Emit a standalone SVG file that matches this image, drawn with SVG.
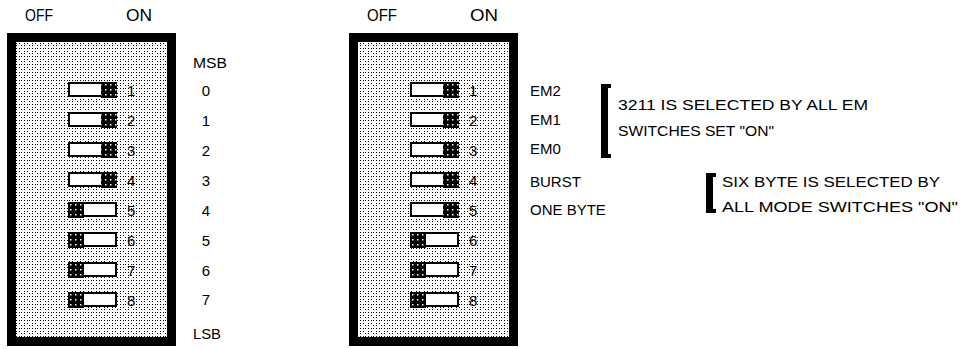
<svg xmlns="http://www.w3.org/2000/svg" width="962" height="349" viewBox="0 0 962 349">
<defs>
<pattern id="dots" x="0" y="0" width="8" height="8" patternUnits="userSpaceOnUse">
<rect width="8" height="8" fill="#fff"/>
<rect x="0" y="0" width="1" height="1" fill="#000"/>
<rect x="3" y="0" width="1" height="1" fill="#000"/>
<rect x="5" y="0" width="1" height="1" fill="#000"/>
<rect x="0" y="3" width="1" height="1" fill="#000"/>
<rect x="0" y="5" width="1" height="1" fill="#000"/>
<rect x="3" y="3" width="1" height="1" fill="#000"/>
<rect x="5" y="5" width="1" height="1" fill="#000"/>
</pattern>
<pattern id="knobdots" x="0" y="0" width="5" height="5" patternUnits="userSpaceOnUse">
<rect width="5" height="5" fill="#000"/>
<rect x="2" y="2" width="1.5" height="1.5" fill="#fff"/>
</pattern>
<g id="swOn">
<rect x="1" y="1" width="33" height="13" fill="#fff" stroke="#000" stroke-width="2"/>
<rect x="33" y="0" width="16" height="16" fill="url(#knobdots)"/>
</g>
<g id="swOff">
<rect x="15" y="1" width="33" height="13" fill="#fff" stroke="#000" stroke-width="2"/>
<rect x="0" y="0" width="16" height="16" fill="url(#knobdots)"/>
</g>
</defs>
<style>
text{font-family:"Liberation Sans","DejaVu Sans",sans-serif;fill:#000}
.hd{font-size:16px}
.lb{font-size:15px}
.dg{font-size:15px}
.nt{font-size:14px}
.box{fill:url(#dots);stroke:#000;stroke-width:9}
</style>

<g id="left-panel">
<text class="hd" x="25" y="21" textLength="28" lengthAdjust="spacingAndGlyphs">OFF</text>
<text class="hd" x="126" y="21" textLength="26" lengthAdjust="spacingAndGlyphs">ON</text>
<rect class="box" x="11.5" y="37.5" width="160" height="304"/>
<use href="#swOn" x="68" y="82"/>
<use href="#swOn" x="68" y="112"/>
<use href="#swOn" x="68" y="142"/>
<use href="#swOn" x="68" y="172"/>
<use href="#swOff" x="68" y="202"/>
<use href="#swOff" x="68" y="232"/>
<use href="#swOff" x="68" y="262"/>
<use href="#swOff" x="68" y="292"/>
<text class="dg" x="127" y="96">1</text>
<text class="dg" x="127" y="126">2</text>
<text class="dg" x="127" y="156">3</text>
<text class="dg" x="127" y="186">4</text>
<text class="dg" x="127" y="216">5</text>
<text class="dg" x="127" y="246">6</text>
<text class="dg" x="127" y="276">7</text>
<text class="dg" x="127" y="306">8</text>
<text class="lb" x="193" y="68" textLength="34" lengthAdjust="spacingAndGlyphs">MSB</text>
<text class="lb" x="206" y="96" text-anchor="middle">0</text>
<text class="lb" x="206" y="126" text-anchor="middle">1</text>
<text class="lb" x="206" y="156" text-anchor="middle">2</text>
<text class="lb" x="206" y="186" text-anchor="middle">3</text>
<text class="lb" x="206" y="216" text-anchor="middle">4</text>
<text class="lb" x="206" y="246" text-anchor="middle">5</text>
<text class="lb" x="206" y="276" text-anchor="middle">6</text>
<text class="lb" x="206" y="305" text-anchor="middle">7</text>
<text class="lb" x="193" y="339" textLength="28" lengthAdjust="spacingAndGlyphs">LSB</text>
</g>

<g id="right-panel">
<text class="hd" x="367" y="21" textLength="30" lengthAdjust="spacingAndGlyphs">OFF</text>
<text class="hd" x="470" y="21" textLength="28" lengthAdjust="spacingAndGlyphs">ON</text>
<rect class="box" x="353.5" y="37.5" width="160" height="304"/>
<use href="#swOn" x="410" y="82"/>
<use href="#swOn" x="410" y="112"/>
<use href="#swOn" x="410" y="142"/>
<use href="#swOn" x="410" y="172"/>
<use href="#swOn" x="410" y="202"/>
<use href="#swOff" x="410" y="232"/>
<use href="#swOff" x="410" y="262"/>
<use href="#swOff" x="410" y="292"/>
<text class="dg" x="469" y="96">1</text>
<text class="dg" x="469" y="126">2</text>
<text class="dg" x="469" y="156">3</text>
<text class="dg" x="469" y="186">4</text>
<text class="dg" x="469" y="216">5</text>
<text class="dg" x="469" y="246">6</text>
<text class="dg" x="469" y="276">7</text>
<text class="dg" x="469" y="306">8</text>
<text class="lb" x="530" y="96">EM2</text>
<text class="lb" x="530" y="125">EM1</text>
<text class="lb" x="530" y="154">EM0</text>
<text class="lb" x="530" y="187">BURST</text>
<text class="lb" x="530" y="215">ONE BYTE</text>
</g>

<g id="note-em">
<path d="M601 84 H611 V88 H608 V154 H611 V158 H601 Z" fill="#000"/>
<text class="nt" x="618" y="110" textLength="250" lengthAdjust="spacingAndGlyphs">3211 IS SELECTED BY  ALL EM</text>
<text class="nt" x="618" y="136" textLength="156" lengthAdjust="spacingAndGlyphs">SWITCHES SET "ON"</text>
</g>

<g id="note-mode">
<path d="M706 173 H716 V177 H713 V209 H716 V213 H706 Z" fill="#000"/>
<text class="nt" x="722" y="187" textLength="218" lengthAdjust="spacingAndGlyphs">SIX BYTE IS SELECTED BY</text>
<text class="nt" x="722" y="212" textLength="236" lengthAdjust="spacingAndGlyphs">ALL MODE SWITCHES "ON"</text>
</g>
</svg>
